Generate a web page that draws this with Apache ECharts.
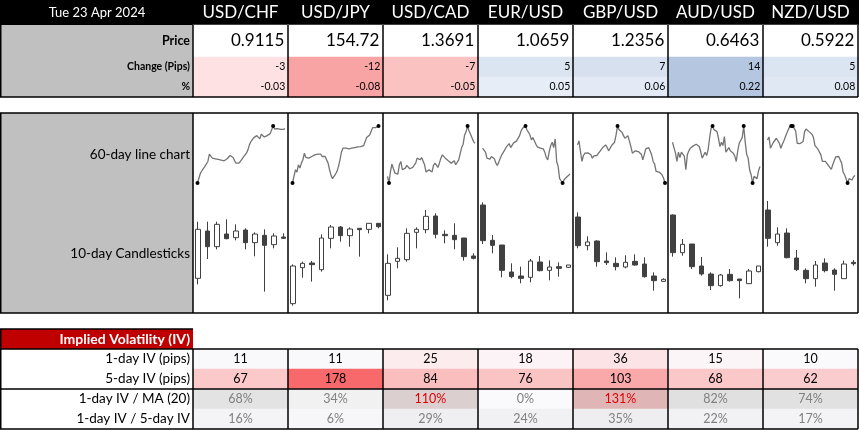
<!DOCTYPE html>
<html><head><meta charset="utf-8">
<script src="https://cdn.jsdelivr.net/npm/echarts@6/dist/echarts.min.js"></script>
<style>html,body{margin:0;padding:0;background:#fff}#c{width:859px;height:430px}</style>
</head><body><div id="c"></div>
<script>
// ---------------- DATA ----------------
const dateLabel = 'Tue 23 Apr 2024';
const pairs = ['USD/CHF','USD/JPY','USD/CAD','EUR/USD','GBP/USD','AUD/USD','NZD/USD'];
const prices = [0.9115, 154.72, 1.3691, 1.0659, 1.2356, 0.6463, 0.5922];
const changePips = [-3, -12, -7, 5, 7, 14, 5];
const changePct = [-0.03, -0.08, -0.05, 0.05, 0.06, 0.22, 0.08];
const topRowLabels = ['Change (Pips)', '%'];
const ivRowLabels = ['1-day IV (pips)', '5-day IV (pips)', '1-day IV / MA (20)', '1-day IV / 5-day IV'];
const iv1d = [11, 11, 25, 18, 36, 15, 10];
const iv5d = [67, 178, 84, 76, 103, 68, 62];
const ivVsMa = [68, 34, 110, 0, 131, 82, 74];
const iv1dVs5d = [16, 6, 29, 24, 35, 22, 17];

// 60-day closes (relative units read from the sparklines)
const line60_USDCHF = [5,20,35,42,45,55,57,70,92,88,80,82,78,80,76,79,74,77,72,70,78,84,88,85,82,72,65,65,65,70,77,84,88,95,105,120,130,132,142,140,148,145,138,152,155,144,138,148,150,154,160,177,168,172,169,172,167,170,167,169];
const line60_USDJPY = [5,25,45,38,60,50,65,75,95,82,85,80,82,85,85,90,88,92,90,92,85,88,85,80,65,45,28,18,25,32,40,55,75,98,110,108,110,107,108,106,110,108,112,110,114,112,115,114,118,120,142,148,150,160,172,168,172,174,177,175];
const line60_USDCAD = [25,5,40,62,48,35,32,32,60,70,45,40,50,58,52,48,53,52,58,65,80,78,75,82,85,60,38,40,45,42,38,58,65,68,52,65,80,90,85,80,80,72,75,65,70,72,60,62,75,80,112,122,150,160,177,162,152,148,130,125];
const line60_EURUSD = [110,107,98,80,84,77,85,88,78,65,58,68,80,90,95,105,113,117,124,112,110,126,122,132,134,148,162,170,172,177,165,158,150,135,142,132,122,114,120,110,114,108,98,82,75,100,118,128,112,138,70,55,18,15,5,15,12,24,18,32];
const line60_GBPUSD = [120,132,100,70,88,95,98,96,98,90,80,87,88,88,94,100,106,112,118,120,112,102,108,118,122,128,150,177,166,160,158,148,140,144,148,150,115,95,100,102,98,100,102,92,75,90,108,110,112,114,90,70,62,40,35,38,33,30,20,5];
const line60_AUDUSD = [128,130,95,70,98,82,98,92,85,45,90,102,110,112,117,120,122,125,115,100,80,82,98,88,105,140,170,177,166,170,160,140,115,128,118,145,98,92,112,102,104,95,86,70,102,125,134,142,177,130,92,80,45,30,5,25,20,18,42,55];
const line60_NZDUSD = [135,144,110,108,128,128,140,138,125,110,122,132,144,155,166,175,177,177,170,162,125,120,124,119,130,160,168,165,160,162,152,142,118,115,107,112,90,70,74,70,68,58,57,46,60,72,84,80,85,82,65,38,30,18,5,18,22,14,24,28];

// 10-day candles [open, close, low, high] (relative units)
const candles_USDCHF = [[95,242,77,265],[237,190,153,265],[190,257,182,265],[228,214,212,272],[217,237,209,257],[240,202,182,245],[202,228,161,233],[224,194,55,242],[196,222,185,230],[219,215,213,230]];
const candles_USDJPY = [[19,132,13,137],[127,140,97,145],[141,136,85,147],[121,216,115,227],[215,249,185,255],[249,223,205,252],[223,243,190,248],[245,241,160,245],[242,260,230,260],[260,250,245,260]];
const candles_USDCAD = [[44,140,29,167],[146,155,125,188],[151,230,145,245],[233,242,185,248],[241,281,230,300],[282,227,215,290],[227,223,200,239],[224,211,182,260],[216,160,148,216],[162,155,152,170]];
const candles_EURUSD = [[315,208,198,323],[209,194,170,225],[195,119,98,195],[114,100,95,140],[102,95,80,130],[98,147,83,153],[144,118,116,162],[119,129,89,149],[130,125,100,143],[128,135,126,135]];
const candles_GBPUSD = [[279,193,185,293],[193,204,179,221],[207,145,130,209],[147,142,135,173],[140,130,119,158],[129,143,125,164],[146,135,133,167],[138,100,97,158],[102,88,58,113],[86,92,85,95]];
const candles_AUDUSD = [[285,172,160,287],[172,197,163,213],[198,130,123,198],[132,108,103,159],[108,73,60,113],[73,105,70,108],[107,88,85,123],[93,88,35,93],[79,117,78,123],[115,132,113,132]];
const candles_NZDUSD = [[300,215,190,327],[202,228,193,248],[231,157,155,245],[156,121,117,180],[119,94,80,125],[94,135,70,147],[141,118,113,155],[120,107,58,125],[94,138,93,148],[143,139,133,150]];

// ---------------- STYLE ----------------
const changeColors = ['#fde1e3','#f9a4a4','#fbc2c2','#dbe4f1','#d6e0ef','#b4c6e0','#dbe4f1'];
const pctColors    = ['#fde1e3','#f9a4a4','#fbc2c2','#e6edf6','#e3eaf5','#b4c6e0','#e0e8f3'];
const iv1Colors    = ['#f9f9fc','#f9f9fc','#fcecee','#fbf3f5','#fce4e6','#fbf5f7','#fafafc'];
const iv5Colors    = ['#fbc9ca','#f8696b','#fabebf','#fac3c4','#f9a9aa','#fbc8c9','#fbcccd'];
const maColors     = ['#e3e3e3','#f1f1f2','#dccfd0','#fafafc','#e0b5b6','#e0e0e0','#e1e1e1'];
const ratioColors  = ['#f4f4f6','#f7f7f9','#efeff1','#f1f1f3','#eeeef0','#f2f2f4','#f4f4f6'];

const FONT = 'Lato';
const L0 = 193, CW = 95, RIGHT = L0 + CW * 7;
const lines60 = [line60_USDCHF,line60_USDJPY,line60_USDCAD,line60_EURUSD,line60_GBPUSD,line60_AUDUSD,line60_NZDUSD];
const candleSets = [candles_USDCHF,candles_USDJPY,candles_USDCAD,candles_EURUSD,candles_GBPUSD,candles_AUDUSD,candles_NZDUSD];

const grids = [
  {left:L0, top:25, width:CW*7, height:32},
  {left:L0, top:57, width:CW*7, height:40},
  {left:L0, top:349, width:CW*7, height:80}
];
const xAxes = [
  {gridIndex:0, type:'category', data:pairs, position:'top', axisLine:{show:false}, axisTick:{show:false}, splitLine:{show:false},
   axisLabel:{interval:0, color:'#fff', fontSize:17, fontFamily:FONT, margin:12, verticalAlign:'middle'}},
  {gridIndex:1, type:'category', data:pairs, show:false},
  {gridIndex:2, type:'category', data:pairs, show:false}
];
const yAxes = [
  {gridIndex:0, type:'category', data:['Price'], axisLine:{show:false}, axisTick:{show:false}, splitLine:{show:false},
   axisLabel:{color:'#000', fontWeight:'bold', fontSize:12.5, fontFamily:FONT, margin:3}},
  {gridIndex:1, type:'category', data:topRowLabels, inverse:true, axisLine:{show:false}, axisTick:{show:false}, splitLine:{show:false},
   axisLabel:{interval:0, color:'#000', fontWeight:'bold', fontSize:10.5, fontFamily:FONT, margin:3}},
  {gridIndex:2, type:'category', data:ivRowLabels, inverse:true, axisLine:{show:false}, axisTick:{show:false}, splitLine:{show:false},
   axisLabel:{interval:0, color:'#000', fontSize:13.5, fontFamily:FONT, margin:3}}
];
const series = [];

function cell(c, r, v, color, labelColor) {
  const d = {value:[c, r, v], itemStyle:{color:color}};
  if (labelColor) d.label = {color: labelColor};
  return d;
}
// price row
series.push({type:'heatmap', xAxisIndex:0, yAxisIndex:0, silent:true,
  data: prices.map((v,c)=>cell(c,0,v,'#ffffff')),
  label:{show:true, position:'insideRight', distance:4, fontSize:17, fontFamily:FONT, color:'#000',
    formatter:p=>{const v=p.value[2]; return v.toFixed(v>100?2:4);}},
  emphasis:{disabled:true}});
// change rows
series.push({type:'heatmap', xAxisIndex:1, yAxisIndex:1, silent:true,
  data: changePips.map((v,c)=>cell(c,0,v,changeColors[c])).concat(changePct.map((v,c)=>cell(c,1,v,pctColors[c]))),
  label:{show:true, position:'insideRight', distance:3, fontSize:10.5, fontFamily:FONT, color:'#000',
    formatter:p=>p.value[1]===0 ? String(p.value[2]) : p.value[2].toFixed(2)},
  emphasis:{disabled:true}});
// IV rows
const ivData = []
  .concat(iv1d.map((v,c)=>cell(c,0,v,iv1Colors[c])))
  .concat(iv5d.map((v,c)=>cell(c,1,v,iv5Colors[c])))
  .concat(ivVsMa.map((v,c)=>cell(c,2,v,maColors[c], v>100?'#e00000':'#808080')))
  .concat(iv1dVs5d.map((v,c)=>cell(c,3,v,ratioColors[c],'#808080')));
series.push({type:'heatmap', xAxisIndex:2, yAxisIndex:2, silent:true, data:ivData,
  label:{show:true, position:'inside', fontSize:12.5, fontFamily:FONT, color:'#000',
    formatter:p=>p.value[1]>=2 ? p.value[2]+'%' : String(p.value[2])},
  emphasis:{disabled:true}});

// sparklines
lines60.forEach((arr,i)=>{
  const gi = grids.length;
  grids.push({left:L0+i*CW+4.5, top:126, width:87.5, height:57});
  xAxes.push({gridIndex:gi, type:'category', boundaryGap:false, data:arr.map((_,k)=>k), show:false});
  yAxes.push({gridIndex:gi, type:'value', min:'dataMin', max:'dataMax', show:false, splitLine:{show:false}});
  const mx = Math.max(...arr), mn = Math.min(...arr);
  series.push({type:'line', xAxisIndex:gi, yAxisIndex:gi, silent:true,
    data: arr.map(v=>({value:v, symbol:(v===mx||v===mn)?'circle':'none'})),
    symbol:'circle', symbolSize:4, showSymbol:true, showAllSymbol:true,
    lineStyle:{color:'#747474', width:1.3}, itemStyle:{color:'#000'}, z:5});
});
// candlesticks
candleSets.forEach((arr,i)=>{
  const gi = grids.length;
  grids.push({left:L0+i*CW, top:198, width:CW, height:112});
  xAxes.push({gridIndex:gi, type:'category', data:arr.map((_,k)=>k), show:false});
  yAxes.push({gridIndex:gi, type:'value', min:0, max:336, show:false, splitLine:{show:false}});
  series.push({type:'candlestick', xAxisIndex:gi, yAxisIndex:gi, silent:true, data:arr, barWidth:5,
    itemStyle:{color:'#ffffff', color0:'#404040', borderColor:'#404040', borderColor0:'#404040', borderWidth:1}});
});

// ---------------- LAYOUT GRAPHICS ----------------
const g = [];
function rect(x,y,w,h,fill){ g.push({type:'rect', silent:true, z:-10, shape:{x,y,width:w,height:h}, style:{fill}}); }
function line(x1,y1,x2,y2){ g.push({type:'line', silent:true, z:100, shape:{x1,y1,x2,y2}, style:{stroke:'#000', lineWidth:1.5}}); }
function text(t,x,y,font,fill,align){ g.push({type:'text', silent:true, z:50, x, y, style:{text:t, font, fill, align, verticalAlign:'middle'}}); }

rect(0,0,859,25,'#000');
rect(0,25,L0,72,'#c0c0c0');
rect(0,113,L0,200,'#c0c0c0');
rect(0,329,L0,20,'#c00000');
text(dateLabel, 97, 13, '13px '+FONT, '#fff', 'center');
text('60-day line chart', 190, 155, '13.5px '+FONT, '#000', 'right');
text('10-day Candlesticks', 190, 254, '13.5px '+FONT, '#000', 'right');
text('Implied Volatility (IV)', 190, 339, 'bold 14px '+FONT, '#fff', 'right');

// top table borders
line(0.75,25,0.75,97); line(0,97,RIGHT,97);
for (let i=0;i<=7;i++) line(L0+i*CW,25,L0+i*CW,97);
// middle borders
line(0,113,RIGHT,113); line(0,313,RIGHT,313); line(0.75,113,0.75,313);
for (let i=0;i<=7;i++) line(L0+i*CW,113,L0+i*CW,313);
// IV header border
line(0,329,L0,329); line(0.75,329,0.75,349);
// IV table borders
line(0,349,RIGHT,349); line(0,389,RIGHT,389); line(0,429,RIGHT,429); line(0.75,349,0.75,429);
for (let i=0;i<=7;i++) line(L0+i*CW,349,L0+i*CW,429);

const chart = echarts.init(document.getElementById('c'), null, {renderer:'canvas'});
chart.setOption({
  animation:false,
  backgroundColor:'#fff',
  textStyle:{fontFamily:FONT},
  grid:grids, xAxis:xAxes, yAxis:yAxes, series:series,
  graphic:{elements:g}
});
</script>
</body></html>
